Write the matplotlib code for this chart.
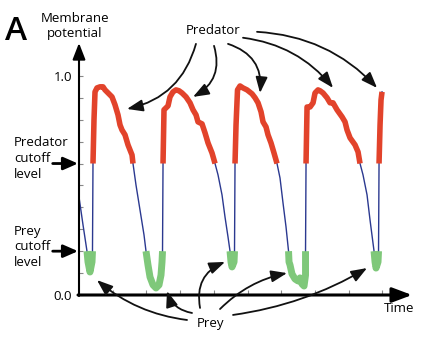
import numpy as np
import matplotlib
matplotlib.use("Agg")
import matplotlib.pyplot as plt

plt.rcParams["font.family"] = ["Open Sans", "DejaVu Sans"]

# Membrane potential trace (time in tick units, potential normalised 0..1)
time = [
    0.000, 0.119, 0.237, 0.267, 0.326, 0.386, 0.400,
    0.415, 0.445, 0.475, 0.534, 0.623, 0.712, 0.772, 0.861, 0.979, 1.068,
    1.157, 1.217, 1.276, 1.365, 1.454, 1.573, 1.602,
    1.691, 1.810, 1.929, 1.988,
    2.047, 2.107, 2.196, 2.285, 2.374, 2.433, 2.463, 2.478,
    2.493, 2.507, 2.522, 2.582, 2.641, 2.700, 2.789, 2.878, 2.967, 3.056,
    3.175, 3.294, 3.383, 3.472, 3.531, 3.650, 3.739, 3.828, 3.947, 4.036,
    4.125, 4.243, 4.332, 4.421, 4.481,
    4.510, 4.540, 4.600, 4.614,
    4.629, 4.659, 4.703, 4.777, 4.866, 4.985, 5.134, 5.223, 5.312, 5.401,
    5.460, 5.549, 5.608, 5.697, 5.786, 5.875,
    5.964, 6.053, 6.142, 6.217,
    6.231, 6.261, 6.320, 6.409, 6.499, 6.558, 6.617, 6.677, 6.721, 6.721,
    6.736, 6.751, 6.766, 6.855, 6.944, 7.003, 7.092, 7.151, 7.240, 7.359,
    7.448, 7.537, 7.656, 7.804, 7.893, 7.953, 8.042, 8.190, 8.279, 8.338,
    8.427, 8.546, 8.635, 8.724, 8.754,
    8.783, 8.813, 8.872, 8.887,
    8.902, 8.932, 8.961, 8.991,
]
potential = [
    0.447, 0.320, 0.200, 0.151, 0.105, 0.151, 0.200,
    0.600, 0.800, 0.927, 0.945, 0.950, 0.950, 0.936, 0.922, 0.904, 0.868,
    0.822, 0.776, 0.753, 0.731, 0.685, 0.639, 0.600,
    0.502, 0.388, 0.274, 0.200,
    0.137, 0.082, 0.046, 0.032, 0.046, 0.091, 0.151, 0.200,
    0.600, 0.730, 0.845, 0.854, 0.863, 0.904, 0.927, 0.936, 0.932, 0.922,
    0.904, 0.877, 0.845, 0.822, 0.790, 0.781, 0.740, 0.694, 0.648, 0.600,
    0.548, 0.457, 0.356, 0.265, 0.200,
    0.151, 0.128, 0.151, 0.200,
    0.600, 0.776, 0.936, 0.954, 0.945, 0.936, 0.918, 0.900, 0.877, 0.836,
    0.790, 0.767, 0.731, 0.694, 0.648, 0.600,
    0.534, 0.420, 0.311, 0.200,
    0.151, 0.137, 0.096, 0.073, 0.064, 0.078, 0.050, 0.041, 0.091, 0.200,
    0.600, 0.730, 0.858, 0.858, 0.877, 0.922, 0.936, 0.932, 0.922, 0.900,
    0.877, 0.877, 0.845, 0.813, 0.790, 0.753, 0.717, 0.685, 0.653, 0.600,
    0.548, 0.457, 0.342, 0.237, 0.200,
    0.151, 0.123, 0.151, 0.200,
    0.600, 0.776, 0.890, 0.927,
]

predator_cutoff = 0.6
prey_cutoff = 0.2

# Label arrows: (start, end, curvature) in (time, potential)
predator_arrows = [
    ((3.47, 1.146), (1.424, 0.849), -0.30),
    ((4.006, 1.137), (3.383, 0.904), -0.40),
    ((4.421, 1.146), (5.371, 0.922), -0.40),
    ((4.866, 1.174), (7.537, 0.945), -0.20),
    ((5.282, 1.201), (8.843, 0.945), -0.20),
]
prey_arrows = [
    ((3.205, -0.114), (0.534, 0.068), -0.15),
    ((3.353, -0.082), (2.611, 0.018), -0.30),
    ((3.591, -0.059), (4.332, 0.151), -0.40),
    ((4.184, -0.064), (6.172, 0.100), -0.15),
    ((4.570, -0.091), (8.546, 0.123), 0.10),
]

RED = "#e2432b"
GREEN = "#7fc87a"
BLUE = "#2b3990"
FS = 9.5

W, H = 421, 343
fig = plt.figure(figsize=(W / 100, H / 100), dpi=100)
ax = fig.add_axes([79 / W, 48 / H, (412 - 79) / W, (295 - 43) / H])
ax.set_xlim(0, 9.88)
ax.set_ylim(0, 1.15)

t = np.array(time)
v = np.array(potential)
ax.plot(t, v, color=BLUE, lw=1.0, zorder=2)
ax.plot(t, np.where(v >= predator_cutoff, v, np.nan), color=RED, lw=4.0,
        solid_capstyle="butt", solid_joinstyle="round", zorder=3)
ax.plot(t, np.where(v <= prey_cutoff, v, np.nan), color=GREEN, lw=5.0,
        solid_capstyle="butt", solid_joinstyle="round", zorder=3)

# Axes with arrowheads
for s in ax.spines.values():
    s.set_visible(False)
ax.annotate("", xy=(0, 1), xytext=(0, -0.004), xycoords="axes fraction",
            textcoords="axes fraction", annotation_clip=False,
            arrowprops=dict(arrowstyle="-|>,head_length=0.9,head_width=0.35",
                            lw=1.5, color="black", shrinkA=0, shrinkB=0,
                            mutation_scale=11))
ax.annotate("", xy=(1, 0), xytext=(-0.003, 0), xycoords="axes fraction",
            textcoords="axes fraction", annotation_clip=False,
            arrowprops=dict(arrowstyle="-|>,head_length=1.2,head_width=0.45",
                            lw=2.2, color="black", shrinkA=0, shrinkB=0,
                            mutation_scale=10))

ax.set_xticks(np.arange(1, 10))
ax.set_xticklabels([])
ax.set_yticks(np.round(np.arange(0, 1.01, 0.1), 1))
ax.set_yticklabels(["0.0"] + [""] * 9 + ["1.0"])
ax.tick_params(axis="both", direction="in", length=3, width=0.8,
               color="#888888", labelsize=FS, pad=5)
ax.tick_params(axis="x", length=3.5)

# Cutoff level arrows
for level in (predator_cutoff, prey_cutoff):
    ax.annotate("", xy=(-0.03, level), xytext=(-0.78, level),
                annotation_clip=False,
                arrowprops=dict(arrowstyle="-|>,head_length=0.8,head_width=0.35",
                                lw=2.0, color="black", shrinkA=0, shrinkB=0,
                                mutation_scale=11))

# Curved label arrows
for (start, end, rad) in predator_arrows + prey_arrows:
    ax.annotate("", xy=end, xytext=start, annotation_clip=False,
                arrowprops=dict(arrowstyle="-|>,head_length=0.8,head_width=0.3",
                                lw=1.3, color="#111111", shrinkA=0, shrinkB=0,
                                mutation_scale=12,
                                connectionstyle=f"arc3,rad={rad}"))

def ftext(x, y, s, **kw):
    fig.text(x / W, 1 - y / H, s, **kw)

ftext(16, 32, "A", fontsize=24, fontweight="semibold", ha="center", va="center")
ftext(75, 26, "Membrane\npotential", fontsize=FS, ha="center", va="center",
      multialignment="center", linespacing=1.3)
ftext(213, 30, "Predator", fontsize=FS, ha="center", va="center")
ftext(14, 158, "Predator\ncutoff\nlevel", fontsize=FS, ha="left", va="center",
      linespacing=1.3)
ftext(14, 247, "Prey\ncutoff\nlevel", fontsize=FS, ha="left", va="center",
      linespacing=1.3)
ftext(211, 323, "Prey", fontsize=FS, ha="center", va="center")
ftext(399, 308, "Time", fontsize=FS, ha="center", va="center")

fig.savefig("out.png", dpi=100)
